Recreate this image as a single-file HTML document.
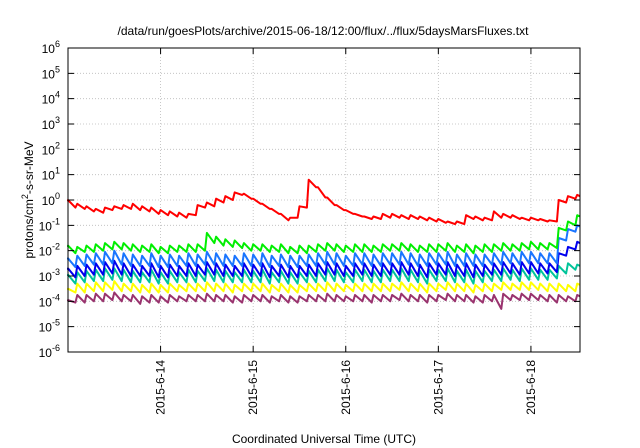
<!DOCTYPE html>
<html><head><meta charset="utf-8"><style>
html,body{margin:0;padding:0;background:#fff;}
svg{display:block;font-family:"Liberation Sans",sans-serif;}
</style></head><body>
<svg id="chart" width="640" height="448" viewBox="0 0 640 448" xmlns="http://www.w3.org/2000/svg">
<text x="323" y="35" font-size="12" text-anchor="middle" fill="#000">/data/run/goesPlots/archive/2015-06-18/12:00/flux/../flux/5daysMarsFluxes.txt</text>
<text transform="translate(33,200) rotate(-90)" font-size="12" text-anchor="middle" fill="#000">protons/cm<tspan dy="-5" font-size="9">2</tspan><tspan dy="5">-s-sr-MeV</tspan></text>
<text x="324" y="443" font-size="12" text-anchor="middle" fill="#000">Coordinated Universal Time (UTC)</text>
<g id="grid"></g>
<g id="series"></g>
<rect x="68" y="48" width="512" height="304" fill="none" stroke="#000" stroke-width="1"/>
<g id="axes"></g>
</svg>
<script>
const dayTicks = [14, 15, 16, 17, 18];
const dayLabels = ["2015-6-14", "2015-6-15", "2016-6-16", "2015-6-17", "2015-6-18"].map((s,i)=>"2015-6-"+(14+i));
const decades = [-6,-5,-4,-3,-2,-1,0,1,2,3,4,5,6];
const peakTimes = [13.0,13.1,13.2,13.3,13.4,13.5,13.6,13.7,13.8,13.9,14.0,14.1,14.2,14.3,14.4,14.5,14.6,14.7,14.8,14.9,15.0,15.1,15.2,15.3,15.4,15.5,15.6,15.7,15.8,15.9,16.0,16.1,16.2,16.3,16.4,16.5,16.6,16.7,16.8,16.9,17.0,17.1,17.2,17.3,17.4,17.5,17.6,17.7,17.8,17.9,18.0,18.1,18.2,18.3,18.4,18.5];
// log10 flux values
const redPeaks = [0,-0.15,-0.25,-0.35,-0.3,-0.25,-0.2,-0.15,-0.25,-0.3,-0.4,-0.45,-0.5,-0.55,-0.2,-0.1,0.05,0.15,0.3,0.25,0.05,-0.15,-0.35,-0.55,-0.7,-0.25,0.8,0.5,0.1,-0.2,-0.4,-0.55,-0.65,-0.65,-0.55,-0.55,-0.6,-0.6,-0.65,-0.7,-0.75,-0.85,-0.85,-0.6,-0.65,-0.7,-0.45,-0.55,-0.6,-0.7,-0.7,-0.75,-0.8,0.0,0.15,0.2];
const redTroughs = [-0.05,-0.3,-0.35,-0.45,-0.5,-0.4,-0.35,-0.35,-0.4,-0.45,-0.55,-0.6,-0.65,-0.7,-0.6,-0.3,-0.25,-0.1,0.0,0.2,0.05,-0.15,-0.35,-0.55,-0.8,-0.7,-0.3,0.5,0.1,-0.2,-0.4,-0.55,-0.65,-0.75,-0.75,-0.7,-0.7,-0.75,-0.75,-0.8,-0.85,-0.9,-0.95,-0.95,-0.75,-0.8,-0.8,-0.7,-0.7,-0.75,-0.8,-0.8,-0.85,-0.85,-0.1,0.05];
const greenPeaks = [-1.8,-1.85,-1.8,-1.75,-1.7,-1.65,-1.7,-1.75,-1.8,-1.75,-1.85,-1.8,-1.8,-1.75,-1.75,-1.3,-1.45,-1.55,-1.6,-1.7,-1.75,-1.75,-1.8,-1.75,-1.85,-1.8,-1.8,-1.75,-1.7,-1.75,-1.8,-1.75,-1.75,-1.8,-1.75,-1.75,-1.7,-1.75,-1.8,-1.75,-1.75,-1.7,-1.8,-1.75,-1.8,-1.75,-1.75,-1.7,-1.75,-1.7,-1.65,-1.7,-1.7,-1.1,-0.85,-0.6];
const greenTroughs = [-1.85,-2.1,-2.05,-2.05,-2.0,-1.95,-1.95,-2.0,-2.05,-2.05,-2.1,-2.1,-2.05,-2.05,-2.05,-2.0,-1.7,-1.8,-1.85,-1.9,-2.0,-2.0,-2.05,-2.05,-2.1,-2.1,-2.1,-2.05,-2.0,-2.0,-2.05,-2.05,-2.05,-2.05,-2.05,-2.0,-2.0,-2.0,-2.05,-2.05,-2.05,-2.0,-2.05,-2.05,-2.1,-2.05,-2.05,-2.0,-2.0,-2.0,-1.95,-1.95,-1.95,-1.9,-1.2,-1.0];
const lightBluePeaks = [-2.3,-2.2,-2.15,-2.1,-2.05,-2.0,-2.1,-2.15,-2.2,-2.1,-2.2,-2.15,-2.2,-2.1,-2.15,-2.05,-2.1,-2.15,-2.2,-2.1,-2.15,-2.1,-2.2,-2.15,-2.2,-2.2,-2.15,-2.1,-2.05,-2.1,-2.2,-2.1,-2.1,-2.15,-2.1,-2.1,-2.05,-2.1,-2.15,-2.1,-2.1,-2.05,-2.15,-2.1,-2.15,-2.15,-2.1,-2.05,-2.1,-2.05,-2.05,-2.1,-2.1,-1.5,-1.15,-1.0];
const lightBlueTroughs = [-2.35,-2.65,-2.6,-2.55,-2.55,-2.5,-2.55,-2.6,-2.6,-2.6,-2.65,-2.65,-2.6,-2.6,-2.6,-2.55,-2.55,-2.6,-2.6,-2.6,-2.6,-2.6,-2.65,-2.6,-2.65,-2.65,-2.6,-2.6,-2.55,-2.55,-2.6,-2.6,-2.55,-2.6,-2.6,-2.55,-2.55,-2.55,-2.6,-2.6,-2.55,-2.55,-2.6,-2.6,-2.6,-2.6,-2.55,-2.55,-2.5,-2.55,-2.5,-2.5,-2.5,-2.5,-1.6,-1.25];
const bluePeaks = [-2.7,-2.6,-2.55,-2.5,-2.45,-2.4,-2.5,-2.55,-2.6,-2.5,-2.6,-2.55,-2.6,-2.5,-2.55,-2.45,-2.5,-2.55,-2.6,-2.5,-2.55,-2.5,-2.6,-2.55,-2.6,-2.6,-2.55,-2.5,-2.45,-2.5,-2.6,-2.5,-2.5,-2.55,-2.5,-2.5,-2.45,-2.5,-2.55,-2.5,-2.5,-2.45,-2.55,-2.5,-2.55,-2.55,-2.5,-2.45,-2.5,-2.45,-2.45,-2.5,-2.5,-2.1,-1.85,-1.65];
const blueTroughs = [-2.75,-3.05,-3.0,-2.95,-2.95,-2.9,-2.95,-3.0,-3.0,-3.0,-3.05,-3.05,-3.0,-3.0,-3.0,-2.95,-2.95,-3.0,-3.0,-3.0,-3.0,-3.0,-3.05,-3.0,-3.05,-3.05,-3.0,-3.0,-2.95,-2.95,-3.0,-3.0,-2.95,-3.0,-3.0,-2.95,-2.95,-2.95,-3.0,-3.05,-2.95,-2.95,-3.0,-3.0,-3.05,-3.0,-2.95,-2.95,-2.9,-2.95,-2.9,-2.9,-2.9,-2.85,-2.2,-1.95];
const tealPeaks = [-2.95,-2.85,-2.8,-2.75,-2.7,-2.7,-2.75,-2.8,-2.85,-2.75,-2.85,-2.8,-2.85,-2.75,-2.8,-2.7,-2.75,-2.8,-2.85,-2.75,-2.8,-2.75,-2.85,-2.8,-2.85,-2.85,-2.8,-2.75,-2.7,-2.75,-2.85,-2.75,-2.75,-2.8,-2.75,-2.75,-2.7,-2.75,-2.8,-2.75,-2.75,-2.7,-2.8,-2.75,-2.8,-2.8,-2.75,-2.7,-2.75,-2.7,-2.7,-2.75,-2.75,-2.6,-2.5,-2.55];
const tealTroughs = [-3.0,-3.3,-3.25,-3.2,-3.2,-3.15,-3.2,-3.25,-3.25,-3.25,-3.3,-3.3,-3.25,-3.25,-3.25,-3.2,-3.2,-3.25,-3.25,-3.25,-3.25,-3.25,-3.3,-3.25,-3.3,-3.3,-3.25,-3.25,-3.2,-3.2,-3.25,-3.25,-3.2,-3.25,-3.25,-3.2,-3.2,-3.2,-3.25,-3.3,-3.2,-3.2,-3.25,-3.25,-3.3,-3.25,-3.2,-3.2,-3.15,-3.2,-3.15,-3.15,-3.15,-3.1,-2.9,-2.75];
const yellowPeaks = [-3.5,-3.3,-3.3,-3.25,-3.25,-3.2,-3.3,-3.3,-3.35,-3.3,-3.35,-3.3,-3.35,-3.3,-3.3,-3.25,-3.3,-3.3,-3.35,-3.3,-3.3,-3.3,-3.35,-3.3,-3.35,-3.35,-3.3,-3.3,-3.25,-3.3,-3.35,-3.3,-3.3,-3.3,-3.3,-3.3,-3.25,-3.3,-3.3,-3.3,-3.3,-3.25,-3.3,-3.3,-3.35,-3.3,-3.3,-3.25,-3.3,-3.25,-3.25,-3.3,-3.3,-3.3,-3.35,-3.3];
const yellowTroughs = [-3.55,-3.65,-3.65,-3.6,-3.6,-3.55,-3.6,-3.6,-3.65,-3.65,-3.65,-3.65,-3.6,-3.6,-3.6,-3.6,-3.6,-3.6,-3.65,-3.6,-3.6,-3.6,-3.65,-3.6,-3.65,-3.65,-3.6,-3.6,-3.6,-3.6,-3.6,-3.6,-3.6,-3.6,-3.6,-3.6,-3.55,-3.6,-3.6,-3.65,-3.6,-3.55,-3.6,-3.6,-3.65,-3.6,-3.6,-3.55,-3.55,-3.55,-3.55,-3.55,-3.6,-3.6,-3.6,-3.6];
const purplePeaks = [-3.95,-3.75,-3.75,-3.7,-3.7,-3.65,-3.75,-3.75,-3.8,-3.75,-3.8,-3.75,-3.8,-3.75,-3.75,-3.7,-3.75,-3.75,-3.8,-3.75,-3.75,-3.75,-3.8,-3.75,-3.8,-3.8,-3.75,-3.75,-3.7,-3.75,-3.8,-3.75,-3.75,-3.75,-3.75,-3.75,-3.7,-3.75,-3.75,-3.75,-3.75,-3.7,-3.75,-3.75,-3.8,-3.75,-3.75,-3.7,-3.75,-3.7,-3.7,-3.75,-3.75,-3.75,-3.8,-3.75];
const purpleTroughs = [-4.0,-4.05,-4.05,-4.0,-4.0,-3.95,-4.0,-4.0,-4.1,-4.05,-4.05,-4.05,-4.0,-4.0,-4.0,-4.0,-4.0,-4.0,-4.05,-4.05,-4.0,-4.0,-4.05,-4.0,-4.05,-4.05,-4.0,-4.0,-4.0,-4.0,-4.0,-4.0,-4.0,-4.05,-4.0,-4.0,-3.95,-4.0,-4.0,-4.05,-4.0,-3.95,-4.0,-4.0,-4.05,-4.05,-4.0,-4.3,-3.95,-3.95,-3.95,-3.95,-4.0,-4.05,-4.0,-4.0];
const seriesNames = ["red-series","green-series","light-blue-series","blue-series","teal-series","yellow-series","purple-series"];
const seriesColors = ["#ff0000","#00ee00","#1a75ff","#0000ee","#00c49a","#ffff00","#99336e"];

const NS="http://www.w3.org/2000/svg";
const X0=68,X1=580,Y0=48,Y1=352,T0=13.0,T1=18.53,L0=-6,L1=6;
const xs=t=>X0+(t-T0)/(T1-T0)*(X1-X0);
const ys=l=>Y1-(l-L0)/(L1-L0)*(Y1-Y0);
function mk(tag,attrs,parent){const e=document.createElementNS(NS,tag);for(const k in attrs)e.setAttribute(k,attrs[k]);parent.appendChild(e);return e;}
const grid=document.getElementById('grid'),axes=document.getElementById('axes'),ser=document.getElementById('series');
decades.forEach(d=>{
  const y=ys(d);
  if(d>L0&&d<L1){const g=mk('line',{x1:X0,x2:X1,y1:y,y2:y,stroke:'#bbb','stroke-width':0.8,'stroke-dasharray':'1,2'},grid);
  
  }
  const tk=mk('path',{d:`M${X0},${y}h6M${X1},${y}h-6`,stroke:'#000'},axes);
  
  
  const t=mk('text',{x:X0-8,y:y+5,'font-size':12,'text-anchor':'end',fill:'#000'},axes);
  
  
  t.textContent='10';
  const s=mk('tspan',{dy:-6,'font-size':9},t);s.textContent=String(d);
});
dayTicks.forEach((d,i)=>{
  const x=xs(d);
  const g=mk('line',{x1:x,x2:x,y1:Y0,y2:Y1,stroke:'#bbb','stroke-width':0.8,'stroke-dasharray':'1,2'},grid);
  
  
  const tk=mk('path',{d:`M${x},${Y1}v-6M${x},${Y0}v6`,stroke:'#000'},axes);
  
  
  const t=mk('text',{transform:`translate(${x+4},${Y1+8}) rotate(-90)`,'font-size':12,'text-anchor':'end',fill:'#000'},axes);
  
  
  t.textContent=dayLabels[i];
});
const allPeaks=[redPeaks,greenPeaks,lightBluePeaks,bluePeaks,tealPeaks,yellowPeaks,purplePeaks];
const allTroughs=[redTroughs,greenTroughs,lightBlueTroughs,blueTroughs,tealTroughs,yellowTroughs,purpleTroughs];
for(let s=6;s>=0;s--){
  let pts=[];
  peakTimes.forEach((t,k)=>{
    pts.push([xs(Math.max(T0,t-0.02)),ys(allTroughs[s][k])]);
    pts.push([xs(t),ys(allPeaks[s][k])]);
  });
  const last=peakTimes.length-1;
  pts.push([xs(T1),ys(allPeaks[s][last]-0.05)]);
  const p=mk('polyline',{points:pts.map(p=>p[0].toFixed(1)+','+p[1].toFixed(1)).join(' '),fill:'none',stroke:seriesColors[s],'stroke-width':2,'stroke-linejoin':'round'},ser);
  
  
}
</script>
</body></html>
